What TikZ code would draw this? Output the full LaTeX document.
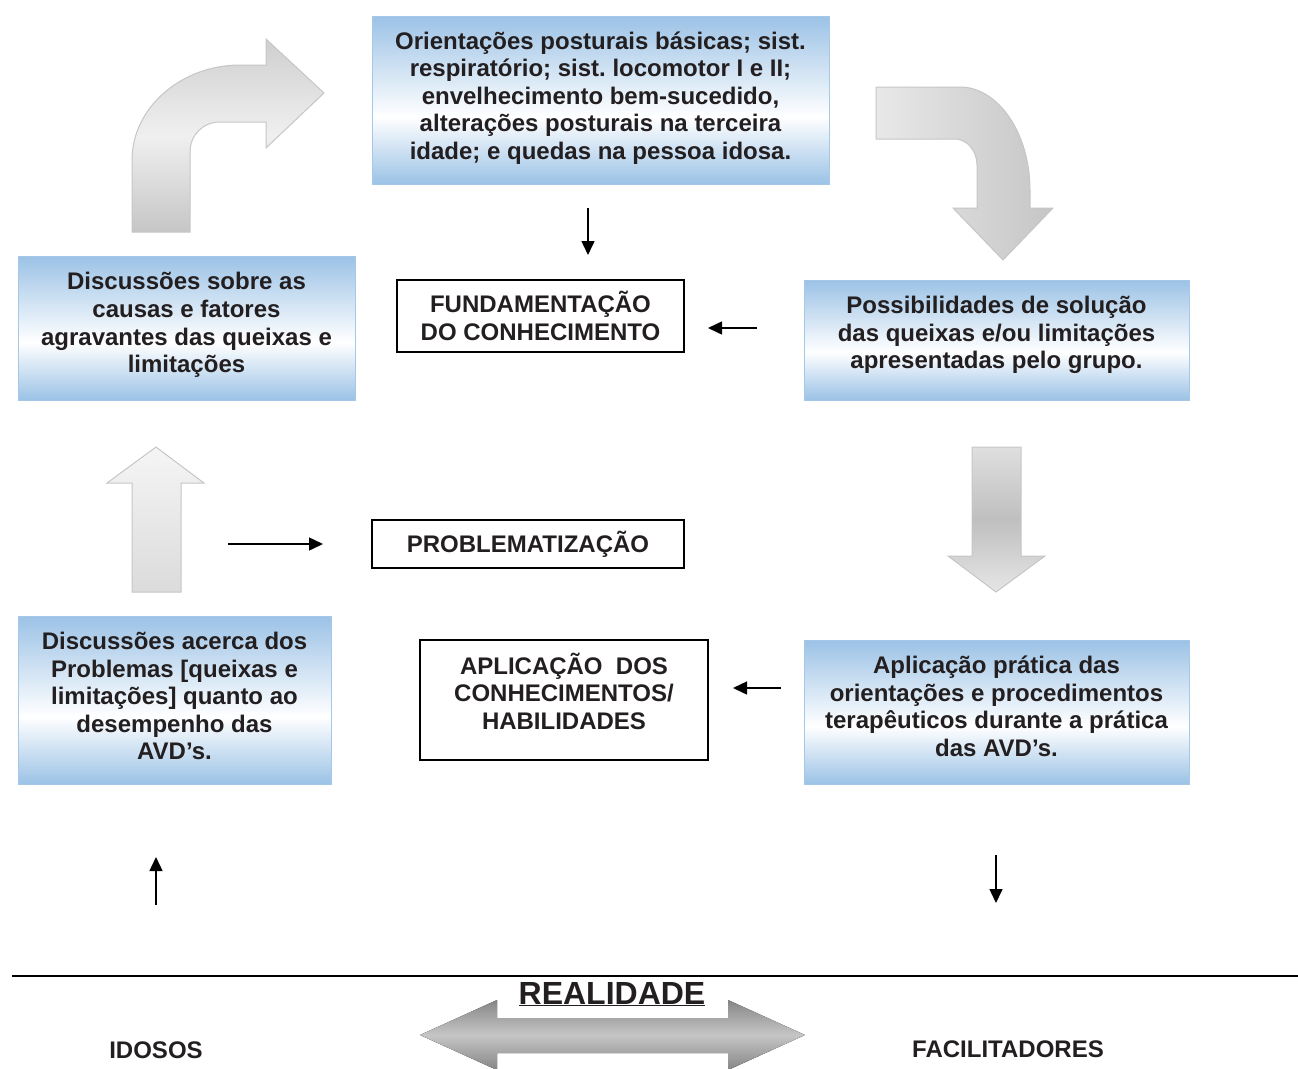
\documentclass[tikz,border=0pt]{standalone}
\usepackage{fontspec}
\setmainfont{Liberation Sans}
\usetikzlibrary{arrows.meta}
\frenchspacing
\definecolor{boxblue}{RGB}{155,194,230}
\definecolor{inkdark}{RGB}{35,31,32}
\pgfdeclareverticalshading{boxshade}{100bp}{color(0bp)=(boxblue); color(25bp)=(boxblue); color(45bp)=(white); color(75bp)=(boxblue); color(100bp)=(boxblue)}
\tikzset{>={Triangle[length=14pt,width=13pt]}}
\tikzset{
  txt/.style={font=\bfseries\fontsize{24}{27.6}\selectfont, text=inkdark, align=center},
  bluebox/.style={txt, shading=boxshade, draw=boxblue!90!white, line width=1pt, inner sep=0pt},
  whitebox/.style={txt, draw=black, line width=2pt, inner sep=0pt},
  grayarrow/.style={draw=gray!45, line width=1pt},
  thinarrow/.style={->, line width=1.5pt}
}

\begin{document}
\begin{tikzpicture}[x=1pt,y=-1pt]
\useasboundingbox (0,0) rectangle (1298,1068);
% gray block arrows
\draw[grayarrow, top color=gray!38, bottom color=gray!45, middle color=gray!12] (132,232) -- (132,160) .. controls (132,108) and (181,65) .. (240,65) -- (266,65) -- (266,39) -- (324,93) -- (266,148) -- (266,122) -- (220,122) .. controls (203,122) and (190,135) .. (190,152) -- (190,232) -- cycle;
\draw[grayarrow, left color=gray!18, right color=gray!45] (876,87) -- (960,87) .. controls (998,87) and (1030,133) .. (1030,190) -- (1030,208) -- (1053,208) -- (1003,260) -- (953,208) -- (977,208) -- (977,165) .. controls (977,151) and (967,139) .. (955,139) -- (876,139) -- cycle;
\draw[grayarrow, top color=gray!8, bottom color=gray!28] (132,592) -- (132,483) -- (107,483) -- (156,447) -- (204,483) -- (181,483) -- (181,592) -- cycle;
\draw[grayarrow, top color=gray!25, bottom color=gray!20, middle color=gray!50] (972,447) -- (1021,447) -- (1021,556) -- (1045,556) -- (996,592) -- (948,556) -- (972,556) -- cycle;
\begin{scope}
\clip (0,0) rectangle (1298,1068);
\fill[top color=gray!95, bottom color=gray!95, middle color=gray!45] (420,1035) -- (497,1000) -- (497,1018) -- (728,1018) -- (728,1000) -- (805,1035) -- (728,1070) -- (728,1053) -- (497,1053) -- (497,1070) -- cycle;
\end{scope}

% blue boxes
\node[bluebox, minimum width=457pt, minimum height=168pt, text depth=9pt] (orient) at (600.5,100) {Orientações posturais básicas; sist.\\ respiratório; sist. locomotor I e II;\\ envelhecimento bem-sucedido,\\ alterações posturais na terceira\\ idade; e quedas na pessoa idosa.};
\node[bluebox, minimum width=337pt, minimum height=144pt, text depth=11pt] (causas) at (186.5,328) {Discussões sobre as\\ causas e fatores\\ agravantes das queixas e\\ limitações};
\node[bluebox, minimum width=385pt, minimum height=120pt, text depth=15pt] (solucao) at (996.5,340) {Possibilidades de solução\\ das queixas e/ou limitações\\ apresentadas pelo grupo.};
\node[bluebox, minimum width=313pt, minimum height=168pt, text depth=8pt] (problemas) at (174.5,700) {Discussões acerca dos\\ Problemas [queixas e\\ limitações] quanto ao\\ desempenho das\\ AVD’s.};
\node[bluebox, minimum width=385pt, minimum height=144pt, text depth=12pt] (pratica) at (996.5,712) {Aplicação prática das\\ orientações e procedimentos\\ terapêuticos durante a prática\\ das AVD’s.};

% white boxes
\node[whitebox, minimum width=287pt, minimum height=72pt] (fundam) at (540.5,316) {FUNDAMENTAÇÃO\\ DO CONHECIMENTO};
\node[whitebox, minimum width=312pt, minimum height=48pt] (problem) at (528,544) {PROBLEMATIZAÇÃO};
\node[whitebox, minimum width=288pt, minimum height=120pt, text depth=18pt] (aplicac) at (564,700) {APLICAÇÃO\ \ DOS\\ CONHECIMENTOS/\\ HABILIDADES};

% small arrows
\coordinate (d1) at (588,208);
\coordinate (d2) at (588,255);
\coordinate (l1) at (757,328);
\coordinate (l2) at (708,328);
\coordinate (r1) at (228,544);
\coordinate (r2) at (323,544);
\coordinate (m1) at (781,688);
\coordinate (m2) at (733,688);
\coordinate (u1) at (156,905);
\coordinate (u2) at (156,857);
\coordinate (f1) at (996,855);
\coordinate (f2) at (996,903);
\draw[thinarrow] (d1) -- (d2);
\draw[thinarrow] (l1) -- (l2);
\draw[thinarrow] (r1) -- (r2);
\draw[thinarrow] (m1) -- (m2);
\draw[thinarrow] (u1) -- (u2);
\draw[thinarrow] (f1) -- (f2);

% realidade
\coordinate (h1) at (12,976);
\coordinate (h2) at (1298,976);
\draw[line width=2pt] (h1) -- (h2);
\node[font=\bfseries\fontsize{32}{36}\selectfont, text=inkdark] (realid) at (612,994) {\underline{REALIDADE}};
\node[txt] (idosos) at (156,1050) {IDOSOS};
\node[txt] (facilit) at (1008,1049) {FACILITADORES};
\end{tikzpicture}
\end{document}
